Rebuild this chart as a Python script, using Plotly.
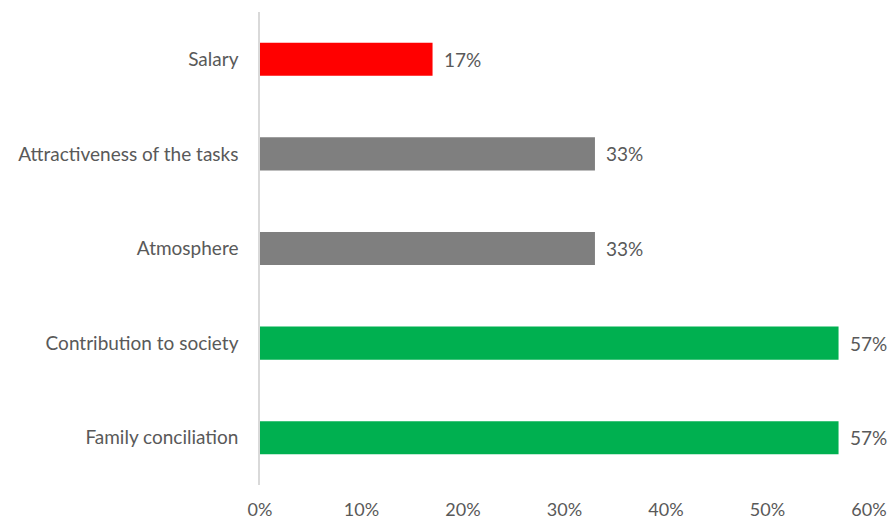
import plotly.graph_objects as go

# Reasons and share of respondents (top to bottom)
categories = [
    "Salary",
    "Attractiveness of the tasks",
    "Atmosphere",
    "Contribution to society",
    "Family conciliation",
]
shares = [0.17, 0.33, 0.33, 0.57, 0.57]
bar_colors = ["#FF0000", "#7F7F7F", "#7F7F7F", "#00B050", "#00B050"]
tick_values = [0, 0.1, 0.2, 0.3, 0.4, 0.5, 0.6]

text_color = "#595959"
font_family = "Lato, 'Open Sans', sans-serif"
font_size = 19

fig = go.Figure(
    go.Bar(
        x=shares,
        y=categories,
        orientation="h",
        marker=dict(color=bar_colors, line=dict(width=0)),
        hoverinfo="skip",
    )
)

# Value labels to the right of each bar
for cat, val in zip(categories, shares):
    fig.add_annotation(
        x=val,
        y=cat,
        text=f"{round(val * 100)}%",
        showarrow=False,
        xanchor="left",
        yanchor="middle",
        xshift=9,
        font=dict(family=font_family, size=font_size, color=text_color),
    )

fig.update_layout(
    width=889,
    height=522,
    margin=dict(l=260, r=20, t=12, b=37),
    paper_bgcolor="white",
    plot_bgcolor="white",
    bargap=0.65,
    showlegend=False,
    font=dict(family=font_family, size=font_size, color=text_color),
)

fig.update_xaxes(
    range=[0, 0.6],
    tickvals=tick_values,
    tickformat=".0%",
    showgrid=False,
    zeroline=False,
    showline=False,
    ticks="",
    ticklabelstandoff=12,
    automargin=False,
    tickfont=dict(family=font_family, size=18, color=text_color),
    fixedrange=True,
)

fig.update_yaxes(
    categoryorder="array",
    categoryarray=categories,
    autorange="reversed",
    showgrid=False,
    zeroline=False,
    showline=True,
    linecolor="#D9D9D9",
    linewidth=1.5,
    ticks="",
    ticklabelstandoff=16,
    automargin=False,
    tickfont=dict(family=font_family, size=font_size, color=text_color),
    fixedrange=True,
)

fig.write_html("out.html")
